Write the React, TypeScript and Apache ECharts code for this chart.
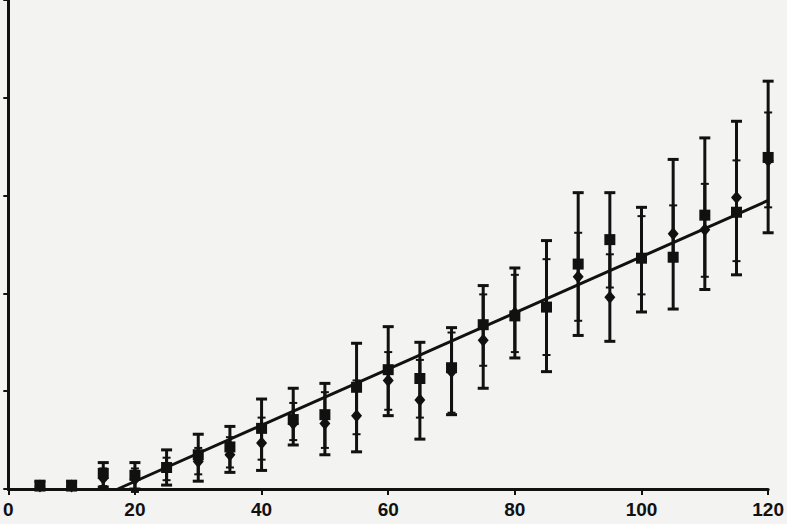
import React, { useEffect, useRef } from "react";
import * as echarts from "echarts";

const xValues = [5, 10, 15, 20, 25, 30, 35, 40, 45, 50, 55, 60, 65, 70, 75, 80, 85, 90, 95, 100, 105, 110, 115, 120];

const squareMean = [0.03, 0.03, 0.16, 0.14, 0.22, 0.35, 0.43, 0.62, 0.71, 0.76, 1.04, 1.22, 1.13, 1.24, 1.68, 1.77, 1.86, 2.30, 2.55, 2.36, 2.37, 2.80, 2.83, 3.39];
const squareHigh = [0.08, 0.08, 0.27, 0.27, 0.40, 0.56, 0.64, 0.92, 1.03, 1.08, 1.49, 1.66, 1.50, 1.65, 2.08, 2.26, 2.54, 3.03, 3.03, 2.88, 3.37, 3.59, 3.76, 4.17];
const squareLow = [0, 0, 0.02, 0, 0.04, 0.08, 0.17, 0.19, 0.45, 0.35, 0.38, 0.75, 0.51, 0.76, 1.03, 1.34, 1.20, 1.57, 1.51, 1.81, 1.84, 2.04, 2.19, 2.62];

const diamondMean = [0.03, 0.03, 0.11, 0.10, 0.22, 0.28, 0.35, 0.47, 0.67, 0.67, 0.75, 1.11, 0.91, 1.20, 1.52, 1.80, 1.86, 2.17, 1.96, 2.36, 2.61, 2.65, 2.98, 3.36];
const diamondHigh = [0.06, 0.06, 0.21, 0.21, 0.32, 0.42, 0.53, 0.73, 0.88, 0.99, 1.11, 1.40, 1.32, 1.60, 1.99, 2.19, 2.35, 2.62, 2.40, 2.79, 2.90, 3.12, 3.36, 3.85];
const diamondLow = [0, 0, 0.03, -0.03, 0.09, 0.15, 0.22, 0.30, 0.50, 0.42, 0.56, 0.81, 0.73, 0.78, 1.26, 1.40, 1.37, 1.72, 2.06, 1.99, 2.33, 2.17, 2.33, 2.88];

const trendX = [17.3, 120];
const trendY = [0, 2.95];

const xTicks = [0, 20, 40, 60, 80, 100, 120];

const INK = "#111111";

function errorBarSeries(low: number[], high: number[], capHalf: number, capWidth: number, lineWidth: number) {
  return {
    type: "custom",
    clip: false,
    z: 2,
    data: xValues.map((x, i) => [x, low[i], high[i]]),
    renderItem: (params: any, api: any) => {
      const x = api.value(0);
      const lo = api.coord([x, api.value(1)]);
      const hi = api.coord([x, api.value(2)]);
      const stroke = { stroke: INK, lineWidth };
      const capStyle = { stroke: INK, lineWidth: capWidth };
      return {
        type: "group",
        children: [
          { type: "line", shape: { x1: lo[0], y1: lo[1], x2: hi[0], y2: hi[1] }, style: stroke },
          { type: "line", shape: { x1: lo[0] - capHalf, y1: lo[1], x2: lo[0] + capHalf, y2: lo[1] }, style: capStyle },
          { type: "line", shape: { x1: hi[0] - capHalf, y1: hi[1], x2: hi[0] + capHalf, y2: hi[1] }, style: capStyle },
        ],
      };
    },
  };
}

export default function App() {
  const ref = useRef<HTMLDivElement>(null);

  useEffect(() => {
    document.body.style.margin = "0";
    const chart = echarts.init(ref.current!, undefined, { renderer: "svg" });
    chart.setOption({
      animation: false,
      backgroundColor: "#f3f3f2",
      grid: { left: 7, right: 16, top: 0, bottom: 35 },
      xAxis: {
        type: "value",
        min: 0,
        max: 120,
        interval: 20,
        splitLine: { show: false },
        axisLine: { show: true, lineStyle: { color: INK, width: 3 } },
        axisTick: { show: true, length: 6, lineStyle: { color: INK, width: 2 } },
        axisLabel: {
          color: INK,
          fontSize: 19,
          fontWeight: "bold",
          fontFamily: "Liberation Sans, Arial, sans-serif",
          margin: 11,
          formatter: (v: number) => (xTicks.includes(v) ? String(v) : ""),
        },
      },
      yAxis: {
        type: "value",
        min: 0,
        max: 5,
        interval: 1,
        splitLine: { show: false },
        axisLine: { show: true, lineStyle: { color: INK, width: 3 } },
        axisTick: { show: true, length: 5, lineStyle: { color: INK, width: 2 } },
        axisLabel: { show: false },
      },
      series: [
        errorBarSeries(squareLow, squareHigh, 5.5, 3, 3),
        errorBarSeries(diamondLow, diamondHigh, 4, 2, 3),
        {
          type: "line",
          z: 3,
          data: trendX.map((x, i) => [x, trendY[i]]),
          symbol: "none",
          lineStyle: { color: INK, width: 3 },
        },
        {
          type: "scatter",
          z: 4,
          data: xValues.map((x, i) => [x, diamondMean[i]]),
          symbol: "diamond",
          symbolSize: [11, 13],
          itemStyle: { color: INK, opacity: 1 },
        },
        {
          type: "scatter",
          z: 5,
          data: xValues.map((x, i) => [x, squareMean[i]]),
          symbol: "rect",
          symbolSize: 11,
          itemStyle: { color: INK, opacity: 1 },
        },
      ],
    });
    return () => chart.dispose();
  }, []);

  return (
    <div
      ref={ref}
      style={{ position: "absolute", left: 0, top: 0, width: 787, height: 524 }}
    />
  );
}
